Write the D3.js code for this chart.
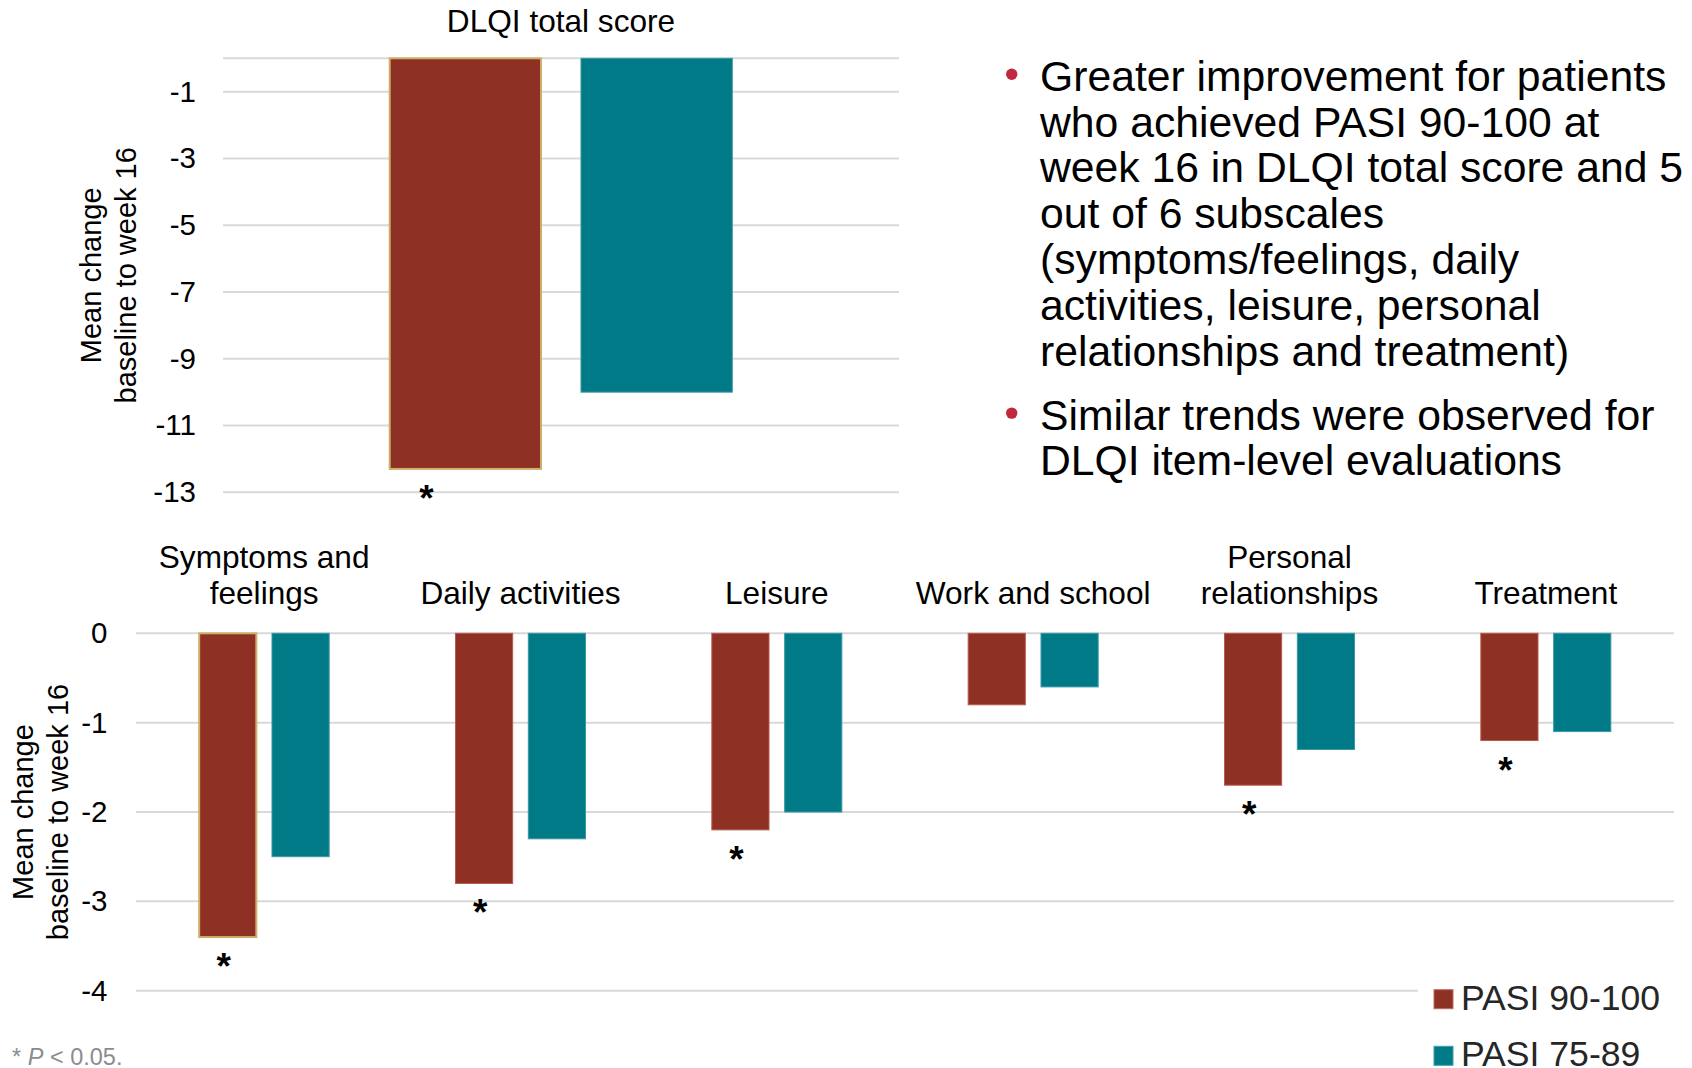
<!DOCTYPE html>
<html>
<head>
<meta charset="utf-8">
<script src="https://cdn.jsdelivr.net/npm/d3@7"></script>
<style>
  html, body { margin: 0; padding: 0; background: #fff; }
  svg { display: block; font-family: "Liberation Sans", Arial, Helvetica, sans-serif; }
</style>
</head>
<body>
<svg id="chart" width="1692" height="1068"></svg>
<script>
// ---------- DATA ----------
const seriesNames = ["PASI 90-100", "PASI 75-89"];
const seriesColors = ["#8f3024", "#007a87"];

const totalCategory = ["DLQI total score"];
const totalPasi90 = [-12.3];
const totalPasi75 = [-10.0];
const totalSignificant = [true];
const totalTicks = [-1, -3, -5, -7, -9, -11, -13];

const categories = ["Symptoms and feelings", "Daily activities", "Leisure", "Work and school", "Personal relationships", "Treatment"];
const categoryLabelLines = [["Symptoms and", "feelings"], ["Daily activities"], ["Leisure"], ["Work and school"], ["Personal", "relationships"], ["Treatment"]];
const subPasi90 = [-3.4, -2.8, -2.2, -0.8, -1.7, -1.2];
const subPasi75 = [-2.5, -2.3, -2.0, -0.6, -1.3, -1.1];
const subSignificant = [true, true, true, false, true, true];
const subTicks = [0, -1, -2, -3, -4];

const yTitleLines = ["Mean change", "baseline to week 16"];

const bullet1 = ["Greater improvement for patients", "who achieved PASI 90-100 at", "week 16 in DLQI total score and 5", "out of 6 subscales", "(symptoms/feelings, daily", "activities, leisure, personal", "relationships and treatment)"];
const bullet2 = ["Similar trends were observed for", "DLQI item-level evaluations"];

// ---------- DRAW ----------
const svg = d3.select("#chart");
const gridColor = "#d9d9d9";
const goldStroke = "#cdb06a";

function drawPanel(opts) {
  const g = svg.append("g");
  const x0 = d3.scaleBand().domain(opts.cats).range(opts.xRange).padding(0);
  const y = d3.scaleLinear().domain(opts.yDomain).range(opts.yRange);
  const bw = x0.bandwidth();
  const x1 = d3.scaleBand().domain(seriesNames)
    .range([bw / 2 - opts.pairHalf, bw / 2 + opts.pairHalf]).paddingInner(opts.innerPad).paddingOuter(0);

  // gridlines
  g.selectAll("line.grid").data(opts.gridVals).enter().append("line")
    .attr("x1", opts.xRange[0]).attr("x2", d => (opts.gridEnd ? opts.gridEnd(d) : opts.xRange[1]))
    .attr("y1", d => y(d)).attr("y2", d => y(d))
    .attr("stroke", gridColor).attr("stroke-width", 2);

  // y axis labels via d3 axis
  const yAxis = d3.axisLeft(y).tickValues(opts.ticks).tickSize(0).tickPadding(0)
    .tickFormat(d => (d === 0 ? "0" : "-" + Math.abs(d)));
  const ax = g.append("g").attr("transform", `translate(${opts.tickX},0)`).call(yAxis);
  ax.select(".domain").remove();
  ax.selectAll("text").attr("font-size", opts.tickFont).attr("fill", "#000")
    .attr("font-family", '"Liberation Sans", Arial, sans-serif');

  // bars
  const rows = opts.cats.map((c, i) => ({ cat: c, vals: [opts.v90[i], opts.v75[i]], sig: opts.sig[i], i }));
  const grp = g.selectAll("g.cat").data(rows).enter().append("g")
    .attr("transform", d => `translate(${x0(d.cat)},0)`);
  grp.selectAll("rect").data(d => d.vals.map((v, k) => ({ v, k, i: d.i }))).enter().append("rect")
    .attr("x", d => x1(seriesNames[d.k]))
    .attr("width", x1.bandwidth())
    .attr("y", d => y(0))
    .attr("height", d => y(d.v) - y(0))
    .attr("fill", d => seriesColors[d.k])
    .attr("stroke", d => (d.k === 0 ? (opts.goldIdx.includes(d.i) ? goldStroke : "#b85a4e") : "#3a98a2"))
    .attr("stroke-width", d => (d.k === 0 && opts.goldIdx.includes(d.i) ? 2 : 1));

  // significance asterisks
  grp.filter(d => d.sig).append("text")
    .attr("x", x1(seriesNames[0]) + x1.bandwidth() / 2 + opts.starDx)
    .attr("y", d => y(d.vals[0]) + 42)
    .attr("text-anchor", "middle")
    .attr("font-size", 37).attr("font-weight", "bold")
    .text("*");

  // category labels
  grp.each(function (d) {
    const lines = opts.labelLines[d.i];
    const t = d3.select(this).append("text")
      .attr("text-anchor", "middle").attr("font-size", opts.labelFont).attr("fill", "#000");
    lines.forEach((ln, j) => {
      t.append("tspan").attr("x", bw / 2)
        .attr("y", opts.labelBaseline - (lines.length - 1 - j) * opts.labelLineH)
        .text(ln);
    });
  });

  // y title
  yTitleLines.forEach((ln, j) => {
    g.append("text")
      .attr("transform", `translate(${opts.titleX[j]},${(opts.yRange[0] + opts.yRange[1]) / 2}) rotate(-90)`)
      .attr("text-anchor", "middle").attr("font-size", 29).attr("fill", "#000")
      .text(ln);
  });
  return { x0, x1, y };
}

// Top panel: DLQI total score
drawPanel({
  cats: totalCategory, v90: totalPasi90, v75: totalPasi75, sig: totalSignificant,
  labelLines: [["DLQI total score"]], labelBaseline: 31.5, labelLineH: 36, labelFont: 31.6,
  xRange: [223, 899], yDomain: [0, -13], yRange: [58.3, 492.3],
  pairHalf: 171.3, innerPad: 0.209,
  gridVals: [0].concat(totalTicks), ticks: totalTicks, tickX: 196, tickFont: 29.5,
  titleX: [101, 136], goldIdx: [0], starDx: -39
});

// Bottom panel: subscales
drawPanel({
  cats: categories, v90: subPasi90, v75: subPasi75, sig: subSignificant,
  labelLines: categoryLabelLines, labelBaseline: 603.5, labelLineH: 35.5, labelFont: 31.6,
  xRange: [136, 1674], yDomain: [0, -4], yRange: [633.3, 990.7],
  pairHalf: 65, innerPad: 0.215,
  gridVals: subTicks, ticks: subTicks, tickX: 107.5, tickFont: 29.5,
  gridEnd: d => (d === -4 ? 1418 : 1674),
  titleX: [32.5, 67.5], goldIdx: [0], starDx: -4
});

// Bullets
const bulletG = svg.append("g");
function drawBullet(lines, firstBaseline) {
  bulletG.append("circle").attr("cx", 1011.7).attr("cy", firstBaseline - 16.4).attr("r", 5.7).attr("fill", "#c1283e");
  const t = bulletG.append("text").attr("font-size", 42.7).attr("fill", "#000");
  lines.forEach((ln, j) => {
    t.append("tspan").attr("x", 1040).attr("y", firstBaseline + j * 45.8).text(ln);
  });
}
drawBullet(bullet1, 90.7);
drawBullet(bullet2, 429.5);

// Legend
const legG = svg.append("g");
legG.append("rect").attr("x", 1420).attr("y", 975).attr("width", 272).attr("height", 93).attr("fill", "#fff");
seriesNames.forEach((name, k) => {
  const yTop = 989.7 + k * 56.6;
  legG.append("rect").attr("x", 1434).attr("y", yTop).attr("width", 19).attr("height", 19)
    .attr("fill", seriesColors[k]).attr("stroke", k === 0 ? "#c06a5e" : "#3aa0aa").attr("stroke-width", 1);
  legG.append("text").attr("x", 1461).attr("y", yTop + 20).attr("font-size", 35.6).attr("fill", "#262626").text(name);
});

// Footnote
const fn = svg.append("text").attr("x", 12).attr("y", 1065).attr("font-size", 23.5).attr("fill", "#8c8c8c");
fn.append("tspan").text("* ");
fn.append("tspan").attr("font-style", "italic").text("P");
fn.append("tspan").text(" < 0.05.");
</script>
</body>
</html>
